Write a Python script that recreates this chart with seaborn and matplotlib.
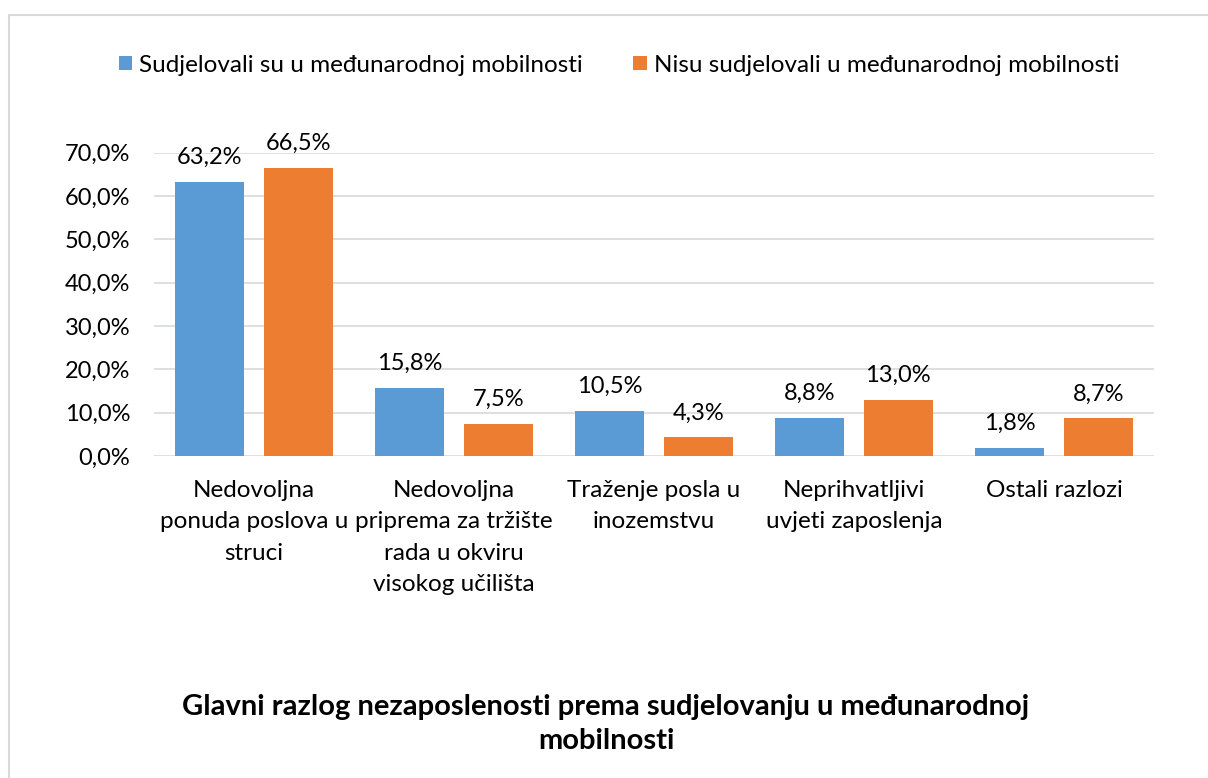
import matplotlib
matplotlib.use('Agg')
import matplotlib.pyplot as plt
from matplotlib.patches import Rectangle
from matplotlib.ticker import FuncFormatter, MultipleLocator
import pandas as pd
import seaborn as sns

# ===== DATA ==================================================================

categories = [
    'Nedovoljna\nponuda poslova u\nstruci',
    'Nedovoljna\npriprema za tržište\nrada u okviru\nvisokog učilišta',
    'Traženje posla u\ninozemstvu',
    'Neprihvatljivi\nuvjeti zaposlenja',
    'Ostali razlozi',
]
series_names = ['Sudjelovali su u međunarodnoj mobilnosti',
                'Nisu sudjelovali u međunarodnoj mobilnosti']
mobility_yes = [63.2, 15.8, 10.5, 8.8, 1.8]
mobility_no  = [66.5, 7.5, 4.3, 13.0, 8.7]
colors       = ['#5B9BD5', '#ED7D31']
title_text   = 'Glavni razlog nezaposlenosti prema sudjelovanju u međunarodnoj\nmobilnosti'

df = pd.DataFrame({
    'razlog'  : categories * 2,
    'postotak': mobility_yes + mobility_no,
    'skupina' : [series_names[0]] * len(categories) + [series_names[1]] * len(categories),
})

# ===== STYLE =================================================================

sns.set_theme(style='white')
plt.rcParams['font.family'] = ['Lato', 'DejaVu Sans']
plt.rcParams['text.color'] = 'black'

def pct(v, _=None):
    return f'{v:.1f}%'.replace('.', ',')

# ===== FIGURE ================================================================

fig = plt.figure(figsize=(12.08, 7.78), dpi=100)
ax = fig.add_axes([154 / 1208, 1 - 456 / 778, 1000 / 1208, (456 - 152.7) / 778])

sns.barplot(data=df, x='razlog', y='postotak', hue='skupina',
            palette=colors, saturation=1, width=0.884, gap=0.215,
            linewidth=0, ax=ax)

for cont in ax.containers:
    ax.bar_label(cont, labels=[pct(v) for v in cont.datavalues],
                 padding=10, fontsize=17, color='black')

ax.set_ylim(0, 70)
ax.yaxis.set_major_locator(MultipleLocator(10))
ax.yaxis.set_major_formatter(FuncFormatter(pct))
ax.set_xlim(-0.5, 4.5)
ax.set_xlabel('')
ax.set_ylabel('')
ax.grid(axis='y', color='#D9D9D9', linewidth=1.2)
ax.set_axisbelow(True)
for s in ax.spines.values():
    s.set_visible(False)
ax.tick_params(axis='y', length=0, labelsize=17, colors='black', pad=17)
ax.tick_params(axis='x', length=0, labelsize=17.5, colors='black', pad=17)
for lbl in ax.get_xticklabels():
    lbl.set_linespacing(1.62)

handles, labels = ax.get_legend_handles_labels()
ax.get_legend().remove()
fig.legend(handles, labels, loc='center', bbox_to_anchor=(619 / 1208, 1 - 65 / 778),
           ncol=2, frameon=False, fontsize=17.5, handlelength=0.55, handleheight=0.55,
           handletextpad=0.3, columnspacing=2.07)

fig.text(606 / 1208, 1 - 724 / 778, title_text, ha='center', va='center',
         fontsize=21, fontweight='bold', linespacing=1.36)

# light frame around the chart area, running off the right/bottom edges
fig.add_artist(Rectangle((9 / 1208, -0.2), 1.5, 1.2 - 15 / 778,
                         transform=fig.transFigure, fill=False,
                         edgecolor='#D9D9D9', linewidth=1.5))

fig.savefig('out.png', dpi=100, facecolor='white')
